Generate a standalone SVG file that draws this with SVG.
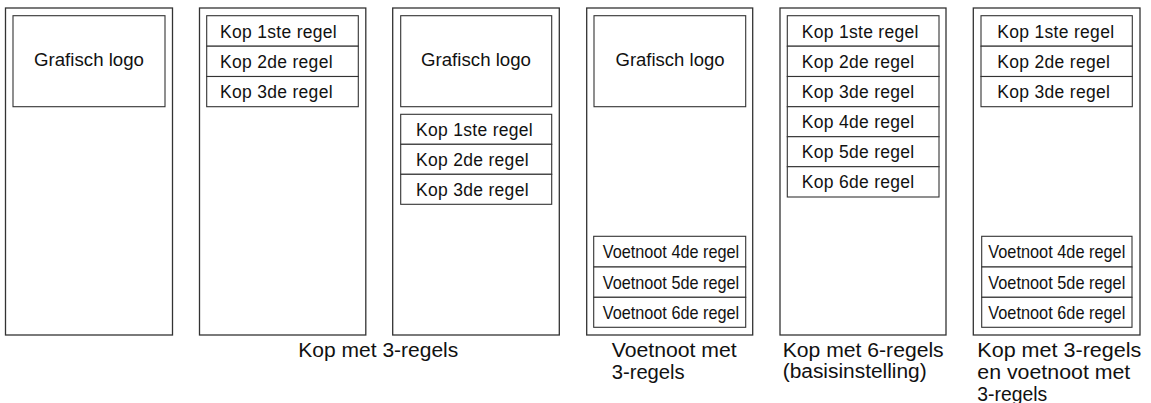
<svg xmlns="http://www.w3.org/2000/svg" width="1151" height="403" viewBox="0 0 1151 403">
<style>
.page{fill:#fff;stroke:#333;stroke-width:1.3}
.box{fill:#fff;stroke:#333;stroke-width:1.1}
text{font-family:"Liberation Sans",Arial,sans-serif;fill:#111}
.kop{font-size:17.5px;letter-spacing:0.3px}
.logo{font-size:17.5px;text-anchor:middle}
.vn{font-size:18.5px}
.cap{font-size:19.5px}
</style>
<rect width="1151" height="403" fill="#fff"/>
<g id="panel1">
<rect class="page" x="5.5" y="8" width="167" height="327"/>
<rect class="box" x="13" y="15.7" width="152" height="91"/>
<text class="logo" x="89" y="65.7" textLength="110" lengthAdjust="spacingAndGlyphs">Grafisch logo</text>
</g>
<g id="panel2">
<rect class="page" x="199.5" y="8" width="166.3" height="327"/>
<rect class="box" x="206.7" y="15.7" width="151.6" height="30.5"/>
<rect class="box" x="206.7" y="46.2" width="151.6" height="30.3"/>
<rect class="box" x="206.7" y="76.5" width="151.6" height="30.2"/>
<text class="kop" x="220" y="37.7">Kop 1ste regel</text>
<text class="kop" x="220" y="67.7">Kop 2de regel</text>
<text class="kop" x="220" y="98">Kop 3de regel</text>
</g>
<g id="panel3">
<rect class="page" x="392.7" y="8" width="166.6" height="327"/>
<rect class="box" x="400.7" y="15.7" width="151" height="91"/>
<text class="logo" x="476" y="65.7" textLength="110" lengthAdjust="spacingAndGlyphs">Grafisch logo</text>
<rect class="box" x="400.7" y="114.3" width="151" height="30"/>
<rect class="box" x="400.7" y="144.3" width="151" height="30"/>
<rect class="box" x="400.7" y="174.3" width="151" height="30"/>
<text class="kop" x="416" y="136">Kop 1ste regel</text>
<text class="kop" x="416" y="166">Kop 2de regel</text>
<text class="kop" x="416" y="196">Kop 3de regel</text>
</g>
<g id="panel4">
<rect class="page" x="586.7" y="8" width="166" height="327"/>
<rect class="box" x="594" y="15.7" width="151.7" height="91"/>
<text class="logo" x="670" y="65.7" textLength="109" lengthAdjust="spacingAndGlyphs">Grafisch logo</text>
<rect class="box" x="593.7" y="236.3" width="152" height="30.7"/>
<rect class="box" x="593.7" y="267" width="152" height="30.3"/>
<rect class="box" x="593.7" y="297.3" width="152" height="30"/>
<text class="vn" x="602.7" y="258.3" textLength="136.5" lengthAdjust="spacingAndGlyphs">Voetnoot 4de regel</text>
<text class="vn" x="602.7" y="289" textLength="136.5" lengthAdjust="spacingAndGlyphs">Voetnoot 5de regel</text>
<text class="vn" x="602.7" y="319.3" textLength="136.5" lengthAdjust="spacingAndGlyphs">Voetnoot 6de regel</text>
</g>
<g id="panel5">
<rect class="page" x="780" y="8" width="166" height="327"/>
<rect class="box" x="787.3" y="15.7" width="151.7" height="30.5"/>
<rect class="box" x="787.3" y="46.2" width="151.7" height="30.3"/>
<rect class="box" x="787.3" y="76.5" width="151.7" height="30.2"/>
<rect class="box" x="787.3" y="106.7" width="151.7" height="30"/>
<rect class="box" x="787.3" y="136.7" width="151.7" height="30"/>
<rect class="box" x="787.3" y="166.7" width="151.7" height="30.3"/>
<text class="kop" x="801.7" y="37.7">Kop 1ste regel</text>
<text class="kop" x="801.7" y="67.7">Kop 2de regel</text>
<text class="kop" x="801.7" y="98">Kop 3de regel</text>
<text class="kop" x="801.7" y="128">Kop 4de regel</text>
<text class="kop" x="801.7" y="158">Kop 5de regel</text>
<text class="kop" x="801.7" y="188.2">Kop 6de regel</text>
</g>
<g id="panel6">
<rect class="page" x="973.3" y="8" width="166.7" height="327"/>
<rect class="box" x="981" y="15.7" width="151.3" height="30.5"/>
<rect class="box" x="981" y="46.2" width="151.3" height="30.3"/>
<rect class="box" x="981" y="76.5" width="151.3" height="30.2"/>
<text class="kop" x="997.3" y="37.7">Kop 1ste regel</text>
<text class="kop" x="997.3" y="67.7">Kop 2de regel</text>
<text class="kop" x="997.3" y="98">Kop 3de regel</text>
<rect class="box" x="981.7" y="236.3" width="150.3" height="30.7"/>
<rect class="box" x="981.7" y="267" width="150.3" height="30.3"/>
<rect class="box" x="981.7" y="297.3" width="150.3" height="30"/>
<text class="vn" x="988.3" y="258.3" textLength="137" lengthAdjust="spacingAndGlyphs">Voetnoot 4de regel</text>
<text class="vn" x="988.3" y="289" textLength="137" lengthAdjust="spacingAndGlyphs">Voetnoot 5de regel</text>
<text class="vn" x="988.3" y="319.3" textLength="137" lengthAdjust="spacingAndGlyphs">Voetnoot 6de regel</text>
</g>
<g id="captions">
<text class="cap" x="298.3" y="356.7" textLength="160" lengthAdjust="spacingAndGlyphs">Kop met 3-regels</text>
<text class="cap" x="611.7" y="356.7" textLength="125" lengthAdjust="spacingAndGlyphs">Voetnoot met</text>
<text class="cap" x="611.7" y="379.3" textLength="73" lengthAdjust="spacingAndGlyphs">3-regels</text>
<text class="cap" x="782.7" y="356.7" textLength="161" lengthAdjust="spacingAndGlyphs">Kop met 6-regels</text>
<text class="cap" x="782.7" y="378.3" textLength="144" lengthAdjust="spacingAndGlyphs">(basisinstelling)</text>
<text class="cap" x="977.3" y="357" textLength="164" lengthAdjust="spacingAndGlyphs">Kop met 3-regels</text>
<text class="cap" x="977.3" y="379.3" textLength="153" lengthAdjust="spacingAndGlyphs">en voetnoot met</text>
<text class="cap" x="977.3" y="401" textLength="70" lengthAdjust="spacingAndGlyphs">3-regels</text>
</g>
<g id="connectors"/>
</svg>
